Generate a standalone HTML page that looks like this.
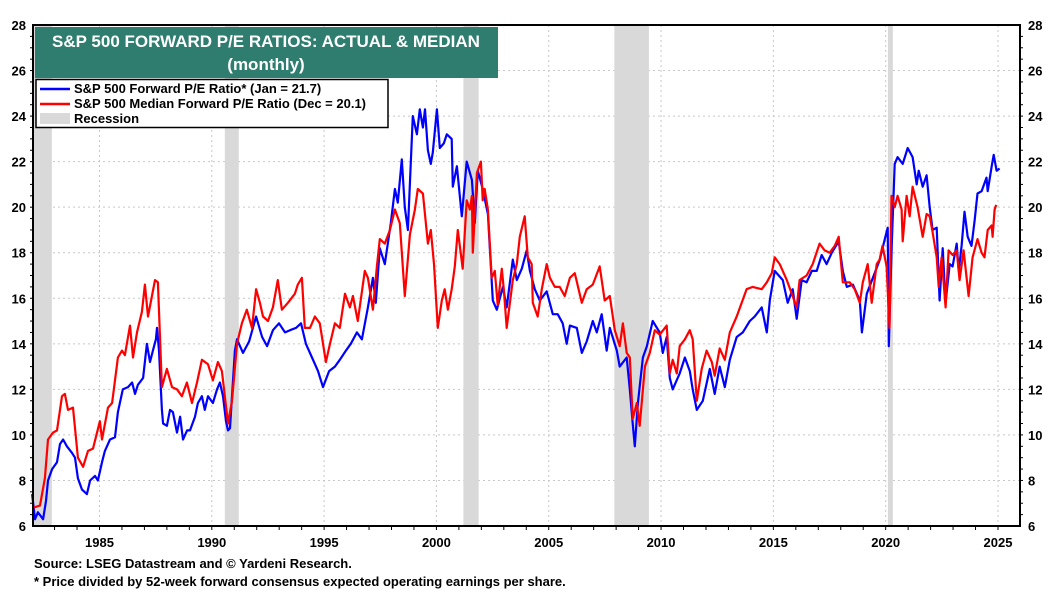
<!DOCTYPE html>
<html><head><meta charset="utf-8"><style>
html,body{margin:0;padding:0;background:#fff;}
svg{display:block;font-family:"Liberation Sans",Arial,sans-serif;}
</style></head><body>
<svg id="chart" width="1052" height="592" viewBox="0 0 1052 592" xmlns="http://www.w3.org/2000/svg">
<g id="grid"></g>
<g id="rec"></g>
<g id="series"></g>
<g id="axes"></g>
<rect x="35" y="27" width="463" height="51" fill="#2e7d6e"/>
<text x="266" y="47" fill="#fff" font-size="17" font-weight="bold" text-anchor="middle">S&amp;P 500 FORWARD P/E RATIOS: ACTUAL &amp; MEDIAN</text>
<text x="266" y="70" fill="#fff" font-size="17" font-weight="bold" text-anchor="middle">(monthly)</text>
<g>
<rect x="36" y="79.5" width="352" height="48" fill="#fff" stroke="#000" stroke-width="1.5"/>
<line x1="40" y1="89" x2="70" y2="89" stroke="#0000ff" stroke-width="2.5"/>
<text x="74" y="93" font-size="13" font-weight="bold">S&amp;P 500 Forward P/E Ratio* (Jan = 21.7)</text>
<line x1="40" y1="104" x2="70" y2="104" stroke="#ff0000" stroke-width="2.5"/>
<text x="74" y="108" font-size="13" font-weight="bold">S&amp;P 500 Median Forward P/E Ratio  (Dec = 20.1)</text>
<rect x="40" y="113" width="30" height="11" fill="#d9d9d9"/>
<text x="74" y="123" font-size="13" font-weight="bold">Recession</text>
</g>
<text x="34" y="568" font-size="13" font-weight="bold">Source: LSEG Datastream and © Yardeni Research.</text>
<text x="34" y="586" font-size="13" font-weight="bold">* Price divided by 52-week forward consensus expected operating earnings per share.</text>
</svg>
<script>
const yTicks=[6,8,10,12,14,16,18,20,22,24,26,28];
const xTicks=[1985,1990,1995,2000,2005,2010,2015,2020,2025];
const recStart=[1982.0,1990.58,2001.2,2007.92,2020.1];
const recEnd=[1982.88,1991.2,2001.88,2009.46,2020.32];
const blueDates=[1982.0,1982.13,1982.26,1982.49,1982.62,1982.71,1982.89,1983.11,1983.24,1983.38,1983.55,1983.78,1983.91,1984.04,1984.22,1984.44,1984.58,1984.8,1984.93,1985.11,1985.24,1985.47,1985.69,1985.82,1986.04,1986.27,1986.45,1986.58,1986.71,1986.94,1987.11,1987.25,1987.38,1987.51,1987.56,1987.65,1987.78,1987.83,1988.0,1988.14,1988.27,1988.45,1988.59,1988.72,1988.9,1989.03,1989.25,1989.38,1989.56,1989.69,1989.83,1990.05,1990.23,1990.36,1990.5,1990.63,1990.72,1990.81,1990.9,1991.03,1991.12,1991.39,1991.66,1991.97,1992.24,1992.46,1992.72,1992.99,1993.26,1993.48,1993.75,1993.97,1994.19,1994.46,1994.73,1994.95,1995.22,1995.48,1995.7,1995.97,1996.19,1996.46,1996.68,1996.95,1997.17,1997.3,1997.48,1997.7,1997.97,1998.15,1998.28,1998.46,1998.59,1998.73,1998.95,1999.13,1999.26,1999.4,1999.49,1999.62,1999.75,1999.84,2000.02,2000.15,2000.33,2000.46,2000.68,2000.73,2000.91,2001.13,2001.35,2001.58,2001.71,2001.84,2002.06,2002.29,2002.51,2002.69,2002.96,2003.13,2003.4,2003.58,2003.8,2004.02,2004.16,2004.38,2004.6,2004.91,2005.18,2005.4,2005.62,2005.8,2005.94,2006.25,2006.47,2006.69,2006.96,2007.14,2007.36,2007.58,2007.72,2008.03,2008.16,2008.47,2008.61,2008.74,2008.83,2008.97,2009.19,2009.37,2009.63,2009.94,2010.08,2010.25,2010.39,2010.52,2010.83,2011.06,2011.28,2011.41,2011.59,2011.86,2012.17,2012.39,2012.61,2012.84,2013.06,2013.37,2013.64,2013.95,2014.17,2014.48,2014.71,2014.84,2015.06,2015.42,2015.64,2015.86,2016.04,2016.26,2016.48,2016.71,2016.93,2017.15,2017.37,2017.6,2017.91,2018.09,2018.27,2018.54,2018.85,2018.94,2019.16,2019.43,2019.74,2019.96,2020.09,2020.14,2020.27,2020.4,2020.53,2020.76,2020.98,2021.2,2021.38,2021.47,2021.65,2021.82,2021.96,2022.09,2022.27,2022.4,2022.54,2022.67,2022.85,2022.98,2023.16,2023.25,2023.38,2023.51,2023.65,2023.82,2023.96,2024.09,2024.27,2024.49,2024.54,2024.72,2024.81,2024.94,2025.07];
const blueValues=[7.4,6.3,6.6,6.3,7.1,8.0,8.5,8.8,9.6,9.8,9.5,9.2,9.0,8.1,7.6,7.4,8.0,8.2,8.0,8.8,9.3,9.8,9.9,11.0,12.0,12.1,12.3,11.8,12.2,12.5,14.0,13.2,13.7,14.2,14.7,13.7,11.1,10.5,10.4,11.1,11.0,10.1,10.8,9.8,10.2,10.2,10.8,11.4,11.7,11.1,11.7,11.4,12.0,12.3,11.7,10.6,10.2,10.3,11.7,13.7,14.2,13.6,14.1,15.2,14.3,13.9,14.6,14.9,14.5,14.6,14.7,14.9,14.0,13.4,12.8,12.1,12.8,13.0,13.3,13.7,14.0,14.5,14.2,15.6,16.9,15.8,18.2,17.5,19.3,20.8,20.2,22.1,20.0,19.0,24.0,23.2,24.3,23.5,24.3,22.5,21.9,22.4,24.3,22.6,22.8,23.2,23.0,20.9,21.8,19.6,22.0,21.2,19.3,21.6,20.8,19.7,15.9,15.5,16.5,15.6,17.7,16.8,17.3,18.1,17.2,16.4,15.9,16.3,15.3,15.3,14.9,14.0,14.8,14.7,13.6,14.1,15.0,14.5,15.3,13.7,14.7,13.7,13.0,13.4,12.0,10.5,9.5,11.4,13.4,13.9,15.0,14.5,13.6,14.3,12.5,12.0,12.7,13.4,12.8,12.0,11.1,11.5,12.9,11.8,13.0,12.1,13.3,14.3,14.5,15.0,15.2,15.6,14.5,15.9,17.2,16.8,15.8,16.4,15.1,16.8,16.7,17.2,17.2,17.9,17.5,18.0,18.5,17.2,16.5,16.6,15.9,14.5,16.2,16.9,17.7,18.6,19.1,13.9,18.3,21.9,22.2,21.9,22.6,22.2,21.0,21.6,20.9,21.4,20.0,19.0,19.1,15.9,18.2,15.8,17.5,17.4,18.4,17.2,18.3,19.8,18.7,18.3,19.4,20.6,20.7,21.3,20.7,21.8,22.3,21.6,21.7];
const redDates=[1982.04,1982.35,1982.57,1982.71,1982.93,1983.11,1983.33,1983.46,1983.6,1983.82,1984.04,1984.27,1984.49,1984.71,1985.02,1985.11,1985.38,1985.56,1985.82,1986.0,1986.13,1986.36,1986.49,1986.67,1986.89,1987.02,1987.16,1987.47,1987.6,1987.78,1988.0,1988.23,1988.45,1988.67,1988.89,1989.12,1989.34,1989.56,1989.83,1990.05,1990.27,1990.45,1990.72,1990.9,1991.12,1991.34,1991.56,1991.79,1991.97,1992.14,1992.28,1992.5,1992.72,1992.94,1993.12,1993.39,1993.7,1993.83,1994.01,1994.14,1994.37,1994.59,1994.81,1995.08,1995.26,1995.48,1995.7,1995.93,1996.15,1996.28,1996.5,1996.81,1996.95,1997.17,1997.35,1997.48,1997.7,1997.93,1998.15,1998.37,1998.59,1998.82,1999.04,1999.17,1999.4,1999.62,1999.75,1999.89,2000.06,2000.24,2000.37,2000.51,2000.68,2000.82,2000.95,2001.17,2001.35,2001.49,2001.58,2001.62,2001.8,2001.98,2002.06,2002.15,2002.29,2002.46,2002.6,2002.73,2002.91,2003.0,2003.13,2003.27,2003.4,2003.58,2003.71,2003.93,2004.07,2004.24,2004.29,2004.51,2004.69,2004.91,2005.05,2005.27,2005.49,2005.71,2005.94,2006.16,2006.47,2006.69,2006.96,2007.27,2007.49,2007.72,2007.94,2008.16,2008.3,2008.47,2008.61,2008.74,2008.92,2009.05,2009.28,2009.5,2009.72,2009.94,2010.25,2010.39,2010.52,2010.7,2010.83,2011.06,2011.28,2011.41,2011.59,2011.81,2012.03,2012.26,2012.39,2012.61,2012.84,2013.06,2013.37,2013.59,2013.81,2014.08,2014.48,2014.71,2014.93,2015.06,2015.28,2015.6,2015.82,2016.04,2016.17,2016.48,2016.75,2017.06,2017.28,2017.51,2017.73,2017.91,2018.09,2018.4,2018.62,2018.85,2018.98,2019.2,2019.38,2019.6,2019.73,2019.86,2020.04,2020.17,2020.26,2020.4,2020.53,2020.71,2020.76,2020.93,2021.07,2021.2,2021.42,2021.65,2021.82,2021.96,2022.09,2022.27,2022.36,2022.49,2022.67,2022.8,2022.98,2023.16,2023.29,2023.47,2023.69,2023.87,2024.09,2024.27,2024.4,2024.54,2024.72,2024.76,2024.85,2024.92];
const redValues=[6.8,6.9,8.1,9.8,10.1,10.2,11.7,11.8,11.1,11.2,9.0,8.6,9.3,9.4,10.6,9.8,11.2,11.4,13.4,13.7,13.5,14.8,13.4,14.5,15.4,16.6,15.2,16.8,16.7,12.1,12.9,12.1,12.0,11.7,12.3,11.4,12.3,13.3,13.1,12.4,13.2,12.8,10.5,11.5,14.0,14.9,15.5,14.7,16.4,15.8,15.2,15.0,15.6,16.8,15.5,15.8,16.2,16.6,16.9,14.7,14.7,15.2,14.9,13.2,14.0,14.9,14.7,16.2,15.6,16.1,15.0,17.2,16.9,15.5,17.4,18.6,18.4,19.0,19.9,19.3,16.1,18.8,19.9,20.8,20.6,18.4,19.0,17.5,14.7,15.9,16.4,15.5,16.4,17.4,19.0,17.3,20.3,19.9,20.5,18.0,21.5,22.0,20.3,20.8,19.9,16.9,17.2,15.7,17.3,16.4,14.7,15.8,16.8,17.5,18.7,19.6,17.8,17.5,15.8,15.2,16.4,17.5,16.9,16.5,16.5,16.1,16.9,17.1,15.8,16.4,16.6,17.4,15.9,16.1,14.6,13.9,14.9,13.6,13.4,10.7,11.4,10.4,13.0,13.6,14.6,14.4,14.8,12.7,13.3,12.7,13.9,14.2,14.6,14.2,11.5,12.9,13.7,13.2,12.6,13.8,13.3,14.5,15.2,15.8,16.4,16.5,16.4,16.7,17.1,17.8,17.5,16.8,16.2,15.6,16.8,17.0,17.5,18.4,18.1,18.0,18.3,18.7,16.7,16.7,16.4,15.8,16.7,17.5,15.8,17.5,17.7,18.3,17.4,14.7,20.5,20.0,20.5,19.9,18.5,20.5,19.6,20.9,20.0,18.7,19.7,19.6,18.9,17.8,16.5,17.8,15.6,18.1,17.9,18.1,16.8,18.1,16.1,17.8,18.6,18.0,17.8,19.0,19.2,18.7,19.9,20.1];

const NS='http://www.w3.org/2000/svg';
const L=33,R=1020,T=25,B=526,X0=1982.04,X1=2025.98,Y0=6,Y1=28;
function xs(v){return L+(v-X0)/(X1-X0)*(R-L);}
function ys(v){return B-(v-Y0)/(Y1-Y0)*(B-T);}
function mk(tag,attrs,parent){const e=document.createElementNS(NS,tag);for(const k in attrs)e.setAttribute(k,attrs[k]);parent.appendChild(e);return e;}
const grid=document.getElementById('grid'),rec=document.getElementById('rec'),ser=document.getElementById('series'),axes=document.getElementById('axes');
yTicks.forEach(v=>{if(v>Y0&&v<Y1){const g=mk('line',{x1:L,x2:R,y1:ys(v),y2:ys(v),stroke:'#c8c8c8','stroke-width':1,'stroke-dasharray':'2,3'},grid);

}});
xTicks.forEach(v=>{const g=mk('line',{x1:xs(v),x2:xs(v),y1:T,y2:B,stroke:'#c8c8c8','stroke-width':1,'stroke-dasharray':'2,3'},grid);

});
recStart.forEach((s,i)=>{const r=mk('rect',{x:xs(s),y:T,width:xs(recEnd[i])-xs(s),height:B-T,fill:'#d9d9d9'},rec);

});
function line(d,v,c,name){let p='';d.forEach((t,i)=>{p+=(i?'L':'M')+xs(t).toFixed(1)+','+ys(v[i]).toFixed(1);});
const e=mk('path',{d:p,fill:'none',stroke:c,'stroke-width':2.2,'stroke-linejoin':'round'},ser);

}
line(blueDates,blueValues,'#0000ff','forward-pe-line');
line(redDates,redValues,'#ff0000','median-forward-pe-line');
const fr=mk('rect',{x:L,y:T,width:R-L,height:B-T,fill:'none',stroke:'#000','stroke-width':2},axes);


for(let y=1983;y<=2025;y++){const t=mk('line',{x1:xs(y),x2:xs(y),y1:B,y2:B+4,stroke:'#000','stroke-width':1},axes);

}
for(let v=6.5;v<28;v+=0.5){[[L,L-3],[R,R+3]].forEach(p=>{const t=mk('line',{x1:p[0],x2:p[1],y1:ys(v),y2:ys(v),stroke:'#000','stroke-width':1},axes);

});}
yTicks.forEach(v=>{const a=mk('text',{x:L-7,y:ys(v)+5,'font-size':13,'font-weight':'bold','text-anchor':'end'},axes);a.textContent=v;


const b=mk('text',{x:R+8,y:ys(v)+5,'font-size':13,'font-weight':'bold'},axes);b.textContent=v;

});
xTicks.forEach(v=>{const a=mk('text',{x:xs(v),y:547,'font-size':13,'font-weight':'bold','text-anchor':'middle'},axes);a.textContent=v;

});
</script>
</body></html>
